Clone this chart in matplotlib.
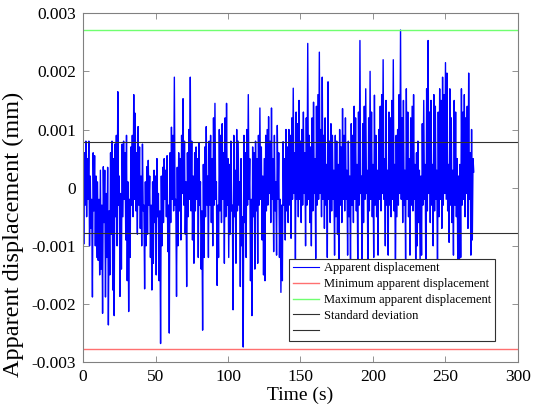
import numpy as np
import matplotlib
matplotlib.use("Agg")
import matplotlib.pyplot as plt

plt.rcParams['font.family'] = ['Liberation Serif', 'DejaVu Serif']

# Local peaks (t = 0,1,2,... s) and troughs (t = 0.5,1.5,... s), in 1e-3 mm
peaks = [
    0.75, 0.6, 0.8, 0.5, 0.8, 0.2, -0.2, 0.6, 0.55, 0.2,
    0.1, -0.2, 0.3, -0.3, 0.36, 0.3, -0.1, 0.35, -0.4, 0.6,
    0.8, 0.5, 0.75, 0.9, 1.65, 0.2, -0.1, 0.75, 0.8, 0.6,
    0.9, 0.1, -0.2, 0.7, 0.9, 1.6, 1.28, 0.6, 1.05, 0.7,
    0.2, 0.75, -0.3, 0.1, 0.36, 0.47, 0.2, -0.3, 0.1, 0.3,
    0.2, 0.5, -0.1, -0.4, 0.2, 0.35, 0.5, 0.3, 0.55, -0.3,
    0.6, 1.04, 0.9, 1.9, -0.2, 0.35, 0.6, 0.5, 0.9, 1.53,
    0.8, 0.1, 0.6, 1.0, 1.9, 0.8, 0.2, 0.6, 0.7, 0.5,
    0.76, 0.1, -0.4, 0.4, 0.7, 1.05, 0.2, 0.8, 0.9, 0.5,
    1.2, 1.45, 0.1, -0.3, 1.0, 0.9, 1.1, 0.6, 1.2, 1.45,
    0.5, 0.4, 0.8, -0.3, 0.9, 0.3, 1.0, 0.8, 0.1, 0.5,
    -0.5, 0.9, 0.6, 1.0, 1.6, 0.5, -0.2, 0.7, 0.6, 0.8,
    0.5, 0.9, 1.37, 0.7, 0.2, 0.5, 0.9, 1.0, 1.22, 0.8,
    1.37, 0.5, 0.9, 0.1, 1.07, 0.6, -0.2, -0.3, 0.79, 0.5,
    1.0, 0.7, 1.0, 0.9, 1.2, 1.71, 0.6, 1.3, 1.1, 1.5,
    0.8, 1.0, 1.3, 0.6, 1.2, 2.48, 0.9, 0.7, 1.2, 1.47,
    0.5, 1.4, 1.6, 2.33, 1.0, 1.9, 0.9, 1.2, 0.4, 1.82,
    0.8, 1.1, 0.9, 0.3, 0.9, 0.8, 0.4, 1.0, 0.7, 1.36,
    0.9, 1.2, 0.3, 0.8, 0.2, 1.1, 0.9, 1.4, 1.2, 0.4,
    1.3, 2.53, 0.2, 1.1, 1.4, 1.7, 0.3, 1.2, 2.0, 1.3,
    0.4, 1.59, 0.9, 0.3, 1.0, 1.4, 1.6, 2.2, 0.5, 1.5,
    0.3, 1.3, 1.2, 1.5, 2.2, 0.4, 0.9, 1.0, 1.6, 2.71,
    1.2, 1.5, 0.3, 1.7, 1.3, 0.5, 1.2, 1.4, 1.6, 0.4,
    0.6, 0.8, 0.3, 0.2, 1.1, 1.5, 0.4, 1.7, 2.53, 1.3,
    1.5, 0.4, 1.6, 1.4, 0.3, 1.3, 1.7, 1.5, 1.9, 1.6,
    2.15, 1.97, 0.4, 1.7, 1.2, 0.3, 1.5, 1.3, 0.5, 0.2,
    0.4, 1.7, 1.3, 1.6, 1.2, 1.4, 1.97, 0.6, 1.0, 0.5,
]
troughs = [
    -0.97, -0.3, -0.5, -0.2, -1.0, -0.7, -1.88, -0.4, -1.0, -1.2,
    -1.25, -1.5, -1.4, -2.16, -0.6, -1.88, -1.2, -2.36, -1.5, -0.8,
    -1.76, -2.2, -0.5, -1.0, -0.3, -1.87, -1.4, -0.5, -0.2, -0.9,
    -1.6, -2.13, -1.2, -0.3, -0.5, -0.2, -0.4, -0.8, -0.3, -0.7,
    -1.0, -0.4, -1.74, -1.0, -0.8, -0.3, -1.2, -1.76, -1.3, -0.6,
    -1.5, -0.5, -1.6, -2.68, -1.0, -0.6, -0.2, -0.5, -1.1, -2.5,
    -0.6, -0.2, -0.4, -0.3, -1.87, -1.0, -0.4, -0.9, -0.1, -0.3,
    -0.8, -1.7, -0.5, -0.2, -0.4, -0.9, -1.3, -0.4, -0.2, -1.2,
    -0.3, -1.4, -2.45, -1.2, -0.5, -0.3, -1.2, -0.3, -0.6, -1.0,
    -0.3, -0.2, -1.68, -1.2, -0.4, -0.6, -0.2, -1.3, -0.5, -0.3,
    -1.2, -0.8, -0.4, -2.1, -0.5, -1.3, -0.4, -0.3, -1.7, -1.0,
    -2.74, -0.6, -1.2, -0.3, -0.2, -1.6, -2.2, -0.5, -1.4, -0.4,
    -1.3, -0.3, -0.2, -0.9, -1.5, -1.6, -0.4, -0.3, -0.1, -0.6,
    -0.2, -1.1, -0.4, -1.16, -0.2, -1.2, -1.8, -1.6, -0.3, -0.9,
    -0.4, -0.6, -0.3, -0.87, -0.2, -0.1, -1.3, -0.2, -0.5, -0.2,
    -0.6, -0.3, -0.1, -1.0, -0.3, -0.2, -0.6, -1.0, -0.4, -0.1,
    -1.22, -0.3, -0.2, -0.1, -0.5, -0.2, -0.7, -0.3, -1.2, -0.2,
    -0.6, -0.4, -0.2, -1.16, -0.5, -0.8, -1.6, -0.3, -0.6, -0.2,
    -0.4, -0.2, -1.16, -0.5, -1.4, -0.3, -0.6, -0.2, -0.4, -1.3,
    -0.3, -0.1, -1.7, -0.6, -0.2, -0.1, -1.4, -0.4, -0.2, -0.5,
    -1.2, -0.3, -0.5, -1.16, -0.2, -0.4, -0.1, -0.2, -1.0, -0.3,
    -1.16, -0.3, -0.5, -0.2, -0.4, -1.6, -0.5, -0.3, -0.1, -0.2,
    -0.6, -0.3, -1.3, -0.2, -0.5, -1.16, -0.3, -0.4, -0.2, -1.4,
    -1.0, -0.6, -1.3, -1.16, -0.3, -0.2, -1.8, -0.4, -0.1, -0.6,
    -0.3, -1.0, -0.4, -0.2, -1.5, -0.5, -0.2, -0.7, -0.3, -0.1,
    -0.2, -0.4, -0.94, -0.3, -0.6, -1.16, -0.3, -0.5, -1.4, -2.0,
    -1.2, -0.3, -0.2, -0.5, -0.1, -0.7, -0.2, -1.16, -0.9, 0.27,
]

max_disp = 0.00271
min_disp = -0.002775
std_disp = 0.00078

x_ticks = [0, 50, 100, 150, 200, 250, 300]
y_ticks = [-0.003, -0.002, -0.001, 0, 0.001, 0.002, 0.003]
y_tick_labels = ['-0.003', '-0.002', '-0.001', '0', '0.001', '0.002', '0.003']

time = np.arange(len(peaks) * 2) * 0.5
disp = np.empty(len(peaks) * 2)
disp[0::2] = np.array(peaks) * 1e-3
disp[1::2] = np.array(troughs) * 1e-3

fig = plt.figure(figsize=(5.39, 4.12), dpi=100)
ax = fig.add_axes([0.154, 0.121, 0.807, 0.847])

l1, = ax.plot(time, disp, color='#0000ff', lw=1.0)
l2 = ax.axhline(min_disp, color='#ff7070', lw=1.0)
l3 = ax.axhline(max_disp, color='#70ff70', lw=1.0)
l4 = ax.axhline(std_disp, color='#303030', lw=0.8)
l5 = ax.axhline(-std_disp, color='#303030', lw=0.8)

ax.set_xlim(0, 300)
ax.set_ylim(-0.003, 0.003)
ax.set_xticks(x_ticks)
ax.set_yticks(y_ticks)
ax.set_yticklabels(y_tick_labels)
ax.tick_params(direction='in', top=True, right=True, length=4, width=0.6,
               color='#808080', labelsize=12.5, pad=5)
for s in ax.spines.values():
    s.set_color('#808080')
    s.set_linewidth(0.8)

ax.set_xlabel('Time (s)', fontsize=14, labelpad=1)
ax.set_ylabel('Apparent displacement (mm)', fontsize=17.5)
ax.yaxis.set_label_coords(-0.135, 0.367)

h1 = plt.Line2D([], [], color='#0000ff', lw=0.8)
leg = ax.legend([h1, l2, l3, l4, l5],
                ['Apparent displacement', 'Minimum apparent displacement',
                 'Maximum apparent displacement', 'Standard deviation', ''],
                loc='lower right', bbox_to_anchor=(0.947, 0.06),
                fontsize=9, fancybox=False, framealpha=1, edgecolor='#303030',
                handlelength=2.1, handletextpad=0.4, borderpad=0.3,
                labelspacing=0.3, borderaxespad=0)
leg.get_frame().set_linewidth(0.8)

fig.savefig('out.png', dpi=100)
